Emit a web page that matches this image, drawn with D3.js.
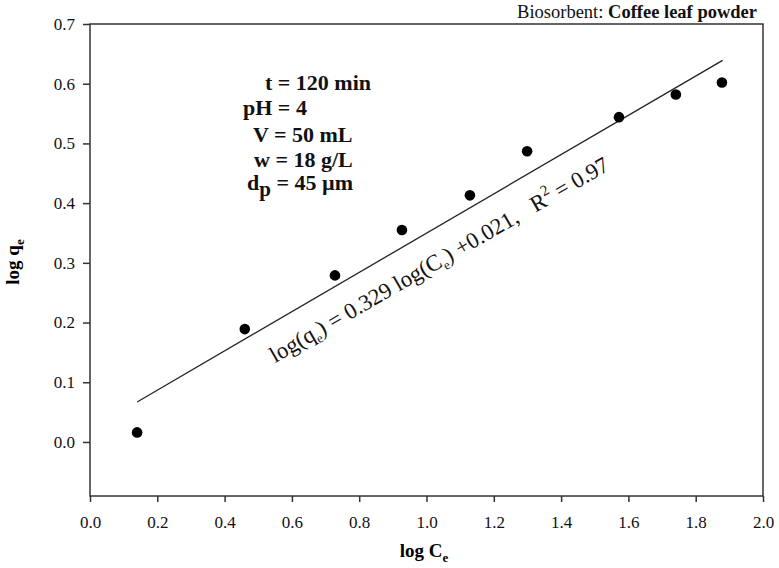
<!DOCTYPE html>
<html>
<head>
<meta charset="utf-8">
<script src="https://cdn.jsdelivr.net/npm/d3@7"></script>
<style>
  html, body { margin: 0; padding: 0; background: #fff; }
  svg { display: block; font-family: "Liberation Serif", "Times New Roman", serif; }
</style>
</head>
<body>
<svg id="chart" width="779" height="568"></svg>
<script>
// ---- data ----
const logCe = [0.14, 0.46, 0.728, 0.927, 1.129, 1.299, 1.572, 1.741, 1.878];
const logQe = [0.016, 0.189, 0.279, 0.355, 0.413, 0.487, 0.544, 0.582, 0.602];
const fitX = [0.14, 1.88];
const fitY = [0.067, 0.639];
const xTicks = [0.0, 0.2, 0.4, 0.6, 0.8, 1.0, 1.2, 1.4, 1.6, 1.8, 2.0];
const yTicks = [0.0, 0.1, 0.2, 0.3, 0.4, 0.5, 0.6, 0.7];
const params = ["t = 120 min", "pH = 4", "V = 50 mL", "w = 18 g/L", "dp = 45 µm"];

// ---- layout ----
const svg = d3.select("#chart");
const plotL = 90, plotR = 763, plotT = 24, plotB = 496;
const x = d3.scaleLinear().domain([0, 2]).range([plotL, plotR]);
const y = d3.scaleLinear().domain([-0.0905, 0.7]).range([plotB, plotT]);
const axisColor = "#333";

// box
svg.append("rect").attr("x", plotL).attr("y", plotT)
  .attr("width", plotR - plotL).attr("height", plotB - plotT)
  .attr("fill", "none").attr("stroke", axisColor).attr("stroke-width", 1.5);

// axes
const xAxis = svg.append("g").attr("transform", `translate(0,${plotB})`)
  .call(d3.axisBottom(x).tickValues(xTicks).tickFormat(d3.format(".1f")).tickSize(6).tickPadding(14));
const yAxis = svg.append("g").attr("transform", `translate(${plotL},0)`)
  .call(d3.axisLeft(y).tickValues(yTicks).tickFormat(d3.format(".1f")).tickSize(7).tickPadding(8));
[xAxis, yAxis].forEach(g => {
  g.select(".domain").remove();
  g.selectAll("line").attr("stroke", axisColor).attr("stroke-width", 1.5);
  g.selectAll("text").attr("font-family", "Liberation Serif").attr("font-size", 17).attr("fill", "#111");
});

// fit line
svg.append("line")
  .attr("x1", x(fitX[0])).attr("y1", y(fitY[0]))
  .attr("x2", x(fitX[1])).attr("y2", y(fitY[1]))
  .attr("stroke", "#222").attr("stroke-width", 1.3);

// points
svg.append("g").selectAll("circle").data(logCe).join("circle")
  .attr("cx", d => x(d)).attr("cy", (d, i) => y(logQe[i]))
  .attr("r", 5.3).attr("fill", "#000");

// title
const title = svg.append("text").attr("x", 757).attr("y", 18)
  .attr("text-anchor", "end").attr("font-size", 18.5).attr("fill", "#111");
title.append("tspan").text("Biosorbent: ");
title.append("tspan").attr("font-weight", "bold").text("Coffee leaf powder");

// axis labels
const xl = svg.append("text").attr("x", 424).attr("y", 557).attr("text-anchor", "middle")
  .attr("font-size", 19).attr("font-weight", "bold");
xl.append("tspan").text("log C");
xl.append("tspan").attr("font-size", 13).attr("dy", 5).text("e");

const yl = svg.append("text").attr("transform", "translate(19,262) rotate(-90)")
  .attr("text-anchor", "middle").attr("font-size", 19).attr("font-weight", "bold");
yl.append("tspan").text("log q");
yl.append("tspan").attr("font-size", 13).attr("dy", 5).text("e");

// parameter block
const pPos = [[265, 90], [243, 115], [253, 142], [254, 167], [247, 190]];
params.forEach((p, i) => {
  const t = svg.append("text").attr("x", pPos[i][0]).attr("y", pPos[i][1])
    .attr("font-size", 22).attr("font-weight", "bold").attr("fill", "#111");
  if (p.startsWith("dp")) {
    t.append("tspan").text("d");
    t.append("tspan").attr("dy", 6).attr("font-size", 21).text("p");
    t.append("tspan").attr("dy", -6).text(p.slice(2));
  } else {
    t.text(p);
  }
});

// equation along the fit line
const eq = svg.append("text")
  .attr("transform", `translate(${x(0.55)},${y(0.132)}) rotate(-30)`)
  .attr("font-size", 22.8).attr("fill", "#111");
eq.append("tspan").text("log(q");
eq.append("tspan").attr("font-size", 13).attr("dy", 5).text("e");
eq.append("tspan").attr("dy", -5).text(") = 0.329 log(C");
eq.append("tspan").attr("font-size", 13).attr("dy", 5).text("e");
eq.append("tspan").attr("dy", -5).text(") +0.021,\u00A0\u00A0\u00A0R");
eq.append("tspan").attr("font-size", 15).attr("dy", -10).text("2");
eq.append("tspan").attr("dy", 10).text(" = 0.97");
</script>
</body>
</html>
